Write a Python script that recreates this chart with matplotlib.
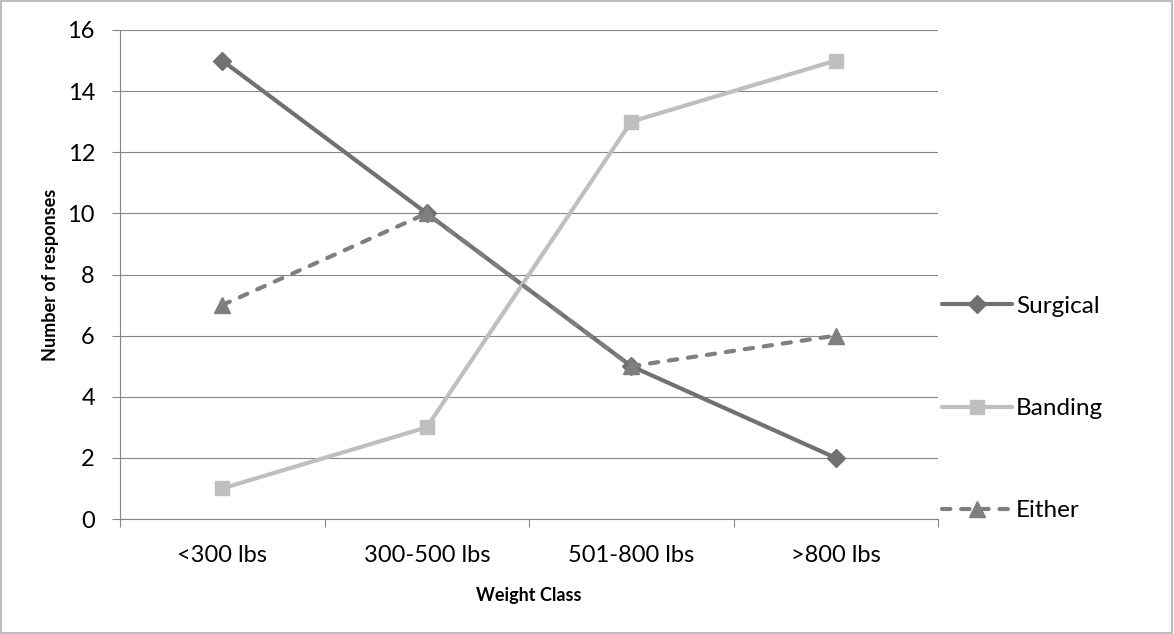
import matplotlib
matplotlib.use("Agg")
import matplotlib.pyplot as plt
from matplotlib.patches import Rectangle

categories = ["<300 lbs", "300-500 lbs", "501-800 lbs", ">800 lbs"]
surgical = [15, 10, 5, 2]
banding = [1, 3, 13, 15]
either = [7, 10, 5, 6]
y_ticks = [0, 2, 4, 6, 8, 10, 12, 14, 16]

plt.rcParams['font.family'] = ['Lato', 'DejaVu Sans']

W, H = 1174, 634
fig = plt.figure(figsize=(W / 100, H / 100), dpi=100)
fig.patches.append(Rectangle((0.001, 0.001), 0.997, 0.997, transform=fig.transFigure,
                             fill=False, edgecolor='#BDBDBD', linewidth=1.5))

ax = fig.add_axes([120 / W, (H - 519) / H, (938 - 120) / W, (519 - 30) / H])
x = list(range(len(categories)))

ax.set_ylim(0, 16)
ax.set_xlim(-0.5, len(categories) - 0.5)
ax.set_yticks(y_ticks)
ax.set_yticklabels([str(v) for v in y_ticks], fontsize=17)
ax.grid(axis='y', color='#868686', linewidth=0.8)
ax.set_axisbelow(True)

ax.set_xticks([i - 0.5 for i in range(len(categories) + 1)])
ax.set_xticklabels([])
ax.set_xticks(x, minor=True)
ax.set_xticklabels(categories, minor=True, fontsize=17)
ax.tick_params(axis='x', which='minor', length=0, pad=19)
ax.tick_params(axis='x', which='major', length=6, color='#868686', width=0.8)
ax.tick_params(axis='y', length=6, color='#868686', width=0.8, pad=12)

for s in ['top', 'right']:
    ax.spines[s].set_visible(False)
for s in ['left', 'bottom']:
    ax.spines[s].set_color('#868686')
    ax.spines[s].set_linewidth(0.8)

ax.plot(x, surgical, color='#717171', linewidth=3, marker='D', markersize=9,
        label='Surgical', solid_capstyle='round', zorder=3)
ax.plot(x, banding, color='#BFBFBF', linewidth=3, marker='s', markersize=10,
        label='Banding', solid_capstyle='round', zorder=3)
ax.plot(x, either, color='#7F7F7F', linewidth=3, marker='^', markersize=11,
        linestyle=(0, (2.0, 2.6)), dash_capstyle='round', label='Either', zorder=4)

ax.set_xlabel('Weight Class', fontsize=13, fontweight='bold', labelpad=15)
ax.set_ylabel('Number of responses', fontsize=13, fontweight='bold', labelpad=6)

fig.legend(loc='center left', bbox_to_anchor=(920 / W, (H - 408.5) / H), frameon=False,
           fontsize=17.5, handlelength=2.9, handletextpad=0.15, labelspacing=3.35)

fig.savefig('out.png', dpi=100)
